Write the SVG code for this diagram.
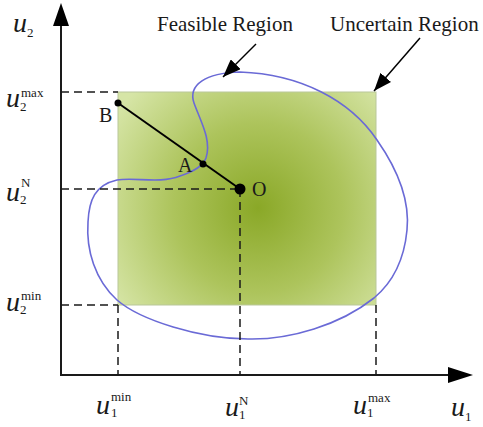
<svg xmlns="http://www.w3.org/2000/svg" width="483" height="427" viewBox="0 0 483 427">
<style>
.ax{stroke:#1a1a1a;stroke-width:2;fill:none}
.dash{stroke:#1a1a1a;stroke-width:1.5;stroke-dasharray:8 5;fill:none}
.lbl{font-family:"Liberation Serif","Times New Roman",serif;fill:#1a1a1a}
.u{font-family:"Liberation Serif","Times New Roman",serif;font-style:italic;font-size:28px;fill:#1a1a1a}
.sup{font-family:"Liberation Serif","Times New Roman",serif;font-style:normal;font-size:13px;fill:#1a1a1a}
.pt{fill:#000}
</style>
<defs>
<radialGradient id="g" gradientUnits="userSpaceOnUse" cx="258" cy="208" r="170">
<stop offset="0" stop-color="#8aa827"/>
<stop offset="0.5" stop-color="#adc45c"/>
<stop offset="1" stop-color="#d6e5a6"/>
</radialGradient>
<marker id="ah2" viewBox="0 0 18 14" refX="18" refY="7" markerWidth="18" markerHeight="14" markerUnits="userSpaceOnUse" orient="auto">
<path d="M0,0 L18,7 L0,14 Z" fill="#000"/>
</marker>
</defs>
<rect x="0" y="0" width="483" height="427" fill="#fff"/>

<g id="uncertain-region">
<rect x="118" y="92" width="258" height="213" fill="url(#g)" stroke="#b9c79a" stroke-width="1"/>
</g>

<g id="feasible-region">
<path d="M 240,72 C 300,74 350,100 377,140 C 398,170 410,200 407,230 C 404,262 392,283 374,298 C 340,325 290,340 248,339 C 200,339 140,320 117,300 C 95,280 86,250 88,222 C 89,200 95,185 117,180 C 135,177 160,184 180,176 C 195,171 203,166 206,158 C 212,140 200,120 194,103 C 188,85 205,73 240,72 Z" fill="none" stroke="#6a6ad6" stroke-width="1.6"/>
</g>

<g id="axes">
<line class="ax" x1="61" y1="376" x2="61" y2="24"/>
<path d="M61,3 L69,26 L53,26 Z" fill="#000"/>
<line class="ax" x1="60" y1="375" x2="449" y2="375"/>
<path d="M473,375 L448,367 L448,383 Z" fill="#000"/>
</g>

<g id="connectors">
<line class="dash" x1="61" y1="92" x2="118" y2="92"/>
<line class="dash" x1="61" y1="189" x2="240" y2="189"/>
<line class="dash" x1="61" y1="305" x2="118" y2="305"/>
<line class="dash" x1="118" y1="305" x2="118" y2="375"/>
<line class="dash" x1="240" y1="189" x2="240" y2="375"/>
<line class="dash" x1="376" y1="305" x2="376" y2="375"/>
<line x1="118" y1="103" x2="240" y2="189" stroke="#000" stroke-width="2"/>
<line x1="256" y1="44" x2="223" y2="77" stroke="#000" stroke-width="1.5" marker-end="url(#ah2)"/>
<line x1="420" y1="38" x2="374" y2="91" stroke="#000" stroke-width="1.5" marker-end="url(#ah2)"/>
</g>

<g id="point-B">
<circle class="pt" cx="118" cy="103" r="3.5"/>
<text class="lbl" x="99" y="122" font-size="20">B</text>
</g>
<g id="point-A">
<circle class="pt" cx="203" cy="164" r="3.5"/>
<text class="lbl" x="178" y="172" font-size="20">A</text>
</g>
<g id="point-O">
<circle class="pt" cx="240" cy="189" r="5.5"/>
<text class="lbl" x="252" y="196" font-size="20">O</text>
</g>

<g id="title-feasible">
<text class="lbl" x="157" y="31" font-size="21">Feasible Region</text>
</g>
<g id="title-uncertain">
<text class="lbl" x="330" y="31" font-size="21">Uncertain Region</text>
</g>

<g id="axis-labels">
<text class="u" x="13" y="32">u</text><text class="sup" x="27" y="37">2</text>
<text class="u" x="6" y="107">u</text><text class="sup" x="21" y="97">max</text><text class="sup" x="20" y="111">2</text>
<text class="u" x="6" y="201">u</text><text class="sup" x="21" y="187">N</text><text class="sup" x="20" y="204">2</text>
<text class="u" x="6" y="311">u</text><text class="sup" x="21" y="300">min</text><text class="sup" x="20" y="314">2</text>
<text class="u" x="96" y="414">u</text><text class="sup" x="111" y="401">min</text><text class="sup" x="111" y="417">1</text>
<text class="u" x="225" y="416">u</text><text class="sup" x="239" y="405">N</text><text class="sup" x="239" y="419">1</text>
<text class="u" x="353" y="414">u</text><text class="sup" x="368" y="402">max</text><text class="sup" x="367" y="417">1</text>
<text class="u" x="451" y="416">u</text><text class="sup" x="465" y="421">1</text>
</g>
</svg>
